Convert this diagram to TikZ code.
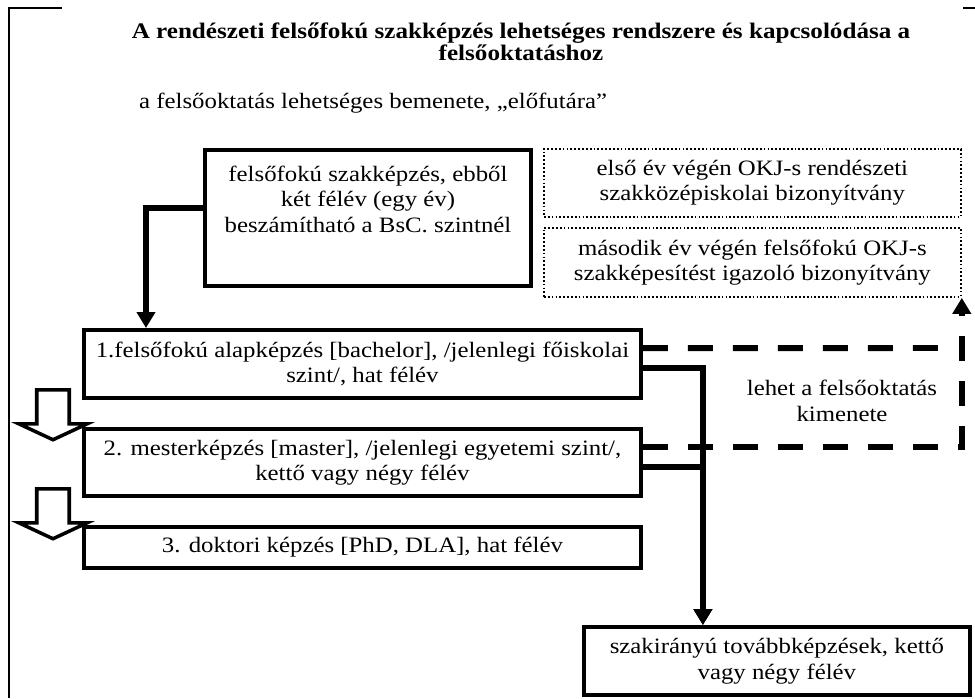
\documentclass[tikz,border=0pt]{standalone}
\usepackage{fontspec}
\setmainfont{Liberation Serif}[FakeStretch=1.13]
\usetikzlibrary{positioning,shapes.arrows,arrows.meta}
\tikzset{
  level module/.style={draw, line width=2.3pt, align=center, inner sep=0pt, minimum width=11.14cm},
  okj module/.style={draw, line width=1.1pt, dash pattern=on 1pt off 1.2pt, align=center, inner sep=0pt, minimum width=8.34cm},
  module down arrow/.style={single arrow, rotate=-90, draw, line width=2pt, fill=white, anchor=tail, inner xsep=0pt, inner ysep=0.29cm, minimum height=1.0cm, minimum width=1.3cm, single arrow head extend=0.36cm, single arrow tip angle=130},
  solid link/.style={line width=3.4pt, -{Triangle[length=0.32cm,width=0.36cm]}},
  dash link/.style={line width=3.4pt, dash pattern=on 0.5cm off 0.4cm},
}

\begin{document}
\begin{tikzpicture}[x=0.02cm,y=-0.02cm,every node/.style={font=\fontsize{12.5}{14.5}\selectfont}]
\useasboundingbox (0,0) rectangle (975,698);
%the frame
\draw[line width=1.4pt] (9,8) -- (9,698);
\draw[line width=0.8pt] (8,8) -- (62,8);
\draw[line width=0.8pt] (963,8) -- (975,8);
%the texts
\node[align=center, font=\fontsize{12.65}{12.8}\selectfont\bfseries] (ttl) at (521,42) {A rendészeti felsőfokú szakképzés lehetséges rendszere és kapcsolódása a\\felsőoktatáshoz};
\node[anchor=west] (sub) at (133,103) {a felsőoktatás lehetséges bemenete, „előfutára”};
%the nodes
\node [level module, anchor=north west, minimum height=1.36cm] (fB) at (82,328) {1.felsőfokú alapképzés [bachelor], /jelenlegi főiskolai\\szint/, hat félév};
\node [level module, below=0.54cm of fB, minimum height=1.34cm] (fC) {2. mesterképzés [master], /jelenlegi egyetemi szint/,\\kettő vagy négy félév};
\node [level module, below=0.54cm of fC, minimum height=0.82cm] (fD) {3. doktori képzés [PhD, DLA], hat félév};
\node [level module, above right=0.8cm and 2.42cm of fB.north west, minimum width=6.52cm, minimum height=2.72cm] (fA) {\parbox[t][2.08cm][t]{6.4cm}{\centering felsőfokú szakképzés, ebből\\két félév (egy év)\\beszámítható a BsC. szintnél}};
\node [okj module, right=0.2cm of fA.north east, anchor=north west, minimum height=1.36cm] (oA) {első év végén OKJ-s rendészeti\\szakközépiskolai bizonyítvány};
\node [okj module, below=0.18cm of oA, minimum height=1.38cm] (oB) {második év végén felsőfokú OKJ-s\\szakképesítést igazoló bizonyítvány};
\node [level module, below right=1.1cm and 10cm of fD.south west, minimum width=7.72cm, minimum height=1.36cm] (fE) {szakirányú továbbképzések, kettő\\vagy négy félév};
\node [align=center] (kim) at (842,401) {lehet a felsőoktatás\\kimenete};
\node [module down arrow] (vA) at (53,388) {};
\node [module down arrow] (vB) at (53,487) {};
%drawings of vectors
\coordinate (dB) at (942,348);
\draw[solid link] ([yshift=0.2cm]fA.west) -| ([xshift=1.28cm]fB.north west);
\draw[dash link] ([yshift=0.32cm]fB.east) -- (dB);
\draw[dash link, -{Triangle[length=0.32cm,width=0.36cm]}] ([yshift=0.31cm]fC.east) -| (oB.south east);
\draw[solid link] ([yshift=-0.08cm]fB.east) -| ([xshift=-1.48cm]fE.north);
\draw[solid link] ([yshift=-0.09cm]fC.east) -| ([xshift=-1.48cm]fE.north);
\end{tikzpicture}
\end{document}
